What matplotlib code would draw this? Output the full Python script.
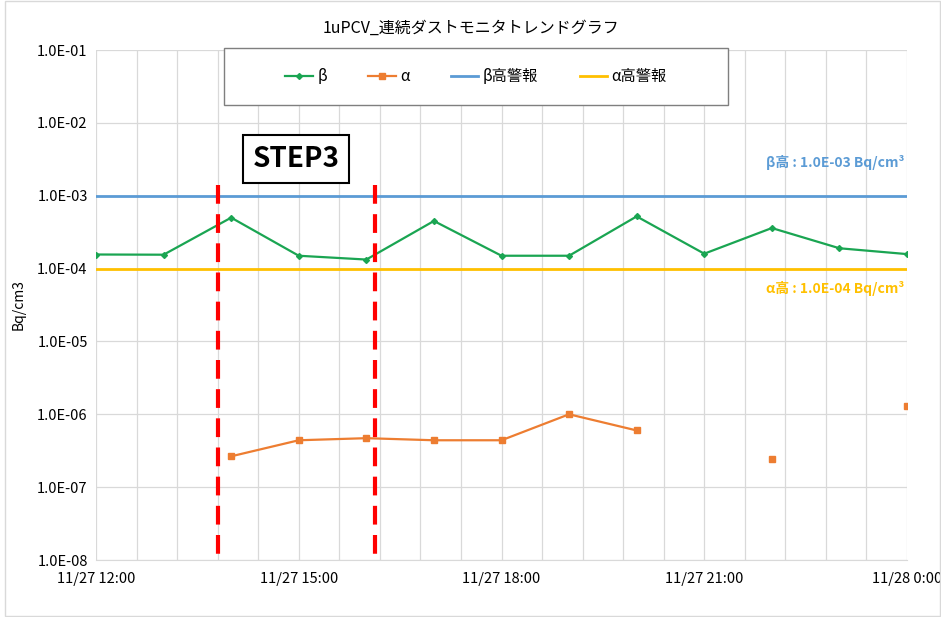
import matplotlib
matplotlib.use("Agg")
import matplotlib.pyplot as plt
import numpy as np
from datetime import datetime, timedelta

plt.rcParams['font.family'] = ['Noto Sans CJK JP', 'DejaVu Sans']

# measurement times (hourly)
times = [datetime(2023, 11, 27, 12) + timedelta(hours=h) for h in range(13)]
beta = [1.56e-4, 1.55e-4, 5.0e-4, 1.5e-4, 1.33e-4, 4.5e-4, 1.5e-4,
        1.5e-4, 5.2e-4, 1.6e-4, 3.6e-4, 1.9e-4, 1.58e-4]
alpha = [np.nan, np.nan, 2.65e-7, 4.4e-7, 4.7e-7, 4.4e-7, 4.4e-7,
         1.0e-6, 6.0e-7, np.nan, 2.4e-7, np.nan, 1.3e-6]
beta_alarm = 1.0e-3
alpha_alarm = 1.0e-4
step_start = datetime(2023, 11, 27, 13, 48)
step_end = datetime(2023, 11, 27, 16, 8)
xtick_times = [datetime(2023, 11, 27, 12) + timedelta(hours=h) for h in (0, 3, 6, 9, 12)]
xtick_labels = ["11/27 12:00", "11/27 15:00", "11/27 18:00", "11/27 21:00", "11/28 0:00"]
ytick_vals = [1e-8, 1e-7, 1e-6, 1e-5, 1e-4, 1e-3, 1e-2, 1e-1]

c_beta = '#1AA552'
c_alpha = '#ED7D31'
c_balarm = '#5B9BD5'
c_aalarm = '#FFC000'

fig = plt.figure(figsize=(9.41, 6.17), dpi=100)
ax = fig.add_axes([96 / 941, 1 - 560 / 617, 811 / 941, 510 / 617])

# chart border
fig.patches.append(plt.Rectangle((5 / 941, 0.002), 935 / 941, 0.996, transform=fig.transFigure,
                                 fill=False, edgecolor='#d9d9d9', linewidth=1))

ax.set_yscale('log')
ax.set_ylim(1e-8, 1e-1)
ax.set_xlim(times[0], times[-1])

# grid
grid_times = [times[0] + timedelta(minutes=36 * i) for i in range(21)]
for gt in grid_times:
    ax.axvline(gt, color='#d9d9d9', linewidth=0.9, zorder=0)
for yv in ytick_vals:
    ax.axhline(yv, color='#d9d9d9', linewidth=0.9, zorder=0)

ax.plot(times, beta, color=c_beta, marker='D', markersize=3, linewidth=1.6, label='β', zorder=3)
ax.plot(times, alpha, color=c_alpha, marker='s', markersize=4, linewidth=1.6, label='α', zorder=3)
ax.plot(times, [beta_alarm] * len(times), color=c_balarm, linewidth=2, label='β高警報', zorder=2)
ax.plot(times, [alpha_alarm] * len(times), color=c_aalarm, linewidth=2, label='α高警報', zorder=2)

# STEP3 boundaries (drawn top-down so the dash pattern starts at the top)
for t in (step_start, step_end):
    ax.plot([t, t], [1.4e-3, 1e-8], color='#FF0000', linewidth=3, linestyle=(0, (4.5, 2.5)),
            zorder=4, clip_on=False)

ax.set_yticks(ytick_vals)
ax.set_yticklabels(["%.1E" % v for v in ytick_vals], fontsize=10.5)
ax.yaxis.set_minor_locator(matplotlib.ticker.NullLocator())
ax.set_xticks(xtick_times)
ax.set_xticklabels(xtick_labels, fontsize=10.5)
ax.tick_params(axis='x', length=0, pad=9)
ax.tick_params(axis='y', length=0, pad=6)
for s in ax.spines.values():
    s.set_visible(False)
ax.spines['bottom'].set_visible(True)
ax.spines['bottom'].set_color('#d9d9d9')

ax.set_ylabel('Bq/cm3', fontsize=10, labelpad=8)
fig.text(0.5, 1 - 28 / 617, '1uPCV_連続ダストモニタトレンドグラフ', ha='center', va='center', fontsize=11.5)

# legend box
lx0, lx1 = (224 - 96) / 811, (728 - 96) / 811
ly0, ly1 = (560 - 105) / 510, (560 - 48) / 510
ax.add_patch(plt.Rectangle((lx0, ly0), lx1 - lx0, ly1 - ly0, transform=ax.transAxes,
                           facecolor='white', edgecolor='#7f7f7f', linewidth=1, zorder=5, clip_on=False))
leg = ax.legend(loc='center', bbox_to_anchor=((lx0 + lx1) / 2, (ly0 + ly1) / 2), ncol=4,
                frameon=False, fontsize=11, handlelength=1.8, handletextpad=0.3, columnspacing=2.7)
leg.set_zorder(6)

ax.text(0.997, (560 - 163) / 510, 'β高 : 1.0E-03 Bq/cm³', transform=ax.transAxes, ha='right',
        va='center', color=c_balarm, fontsize=10, fontweight='bold')
ax.text(0.997, (560 - 288) / 510, 'α高 : 1.0E-04 Bq/cm³', transform=ax.transAxes, ha='right',
        va='center', color=c_aalarm, fontsize=10, fontweight='bold')

ax.text((296 - 96) / 811, (560 - 159) / 510, 'STEP3', transform=ax.transAxes, ha='center', va='center',
        fontsize=20, fontweight='bold', zorder=6,
        bbox=dict(boxstyle='square,pad=0.35', facecolor='white', edgecolor='black', linewidth=1.5))

fig.savefig('out.png', dpi=100)
